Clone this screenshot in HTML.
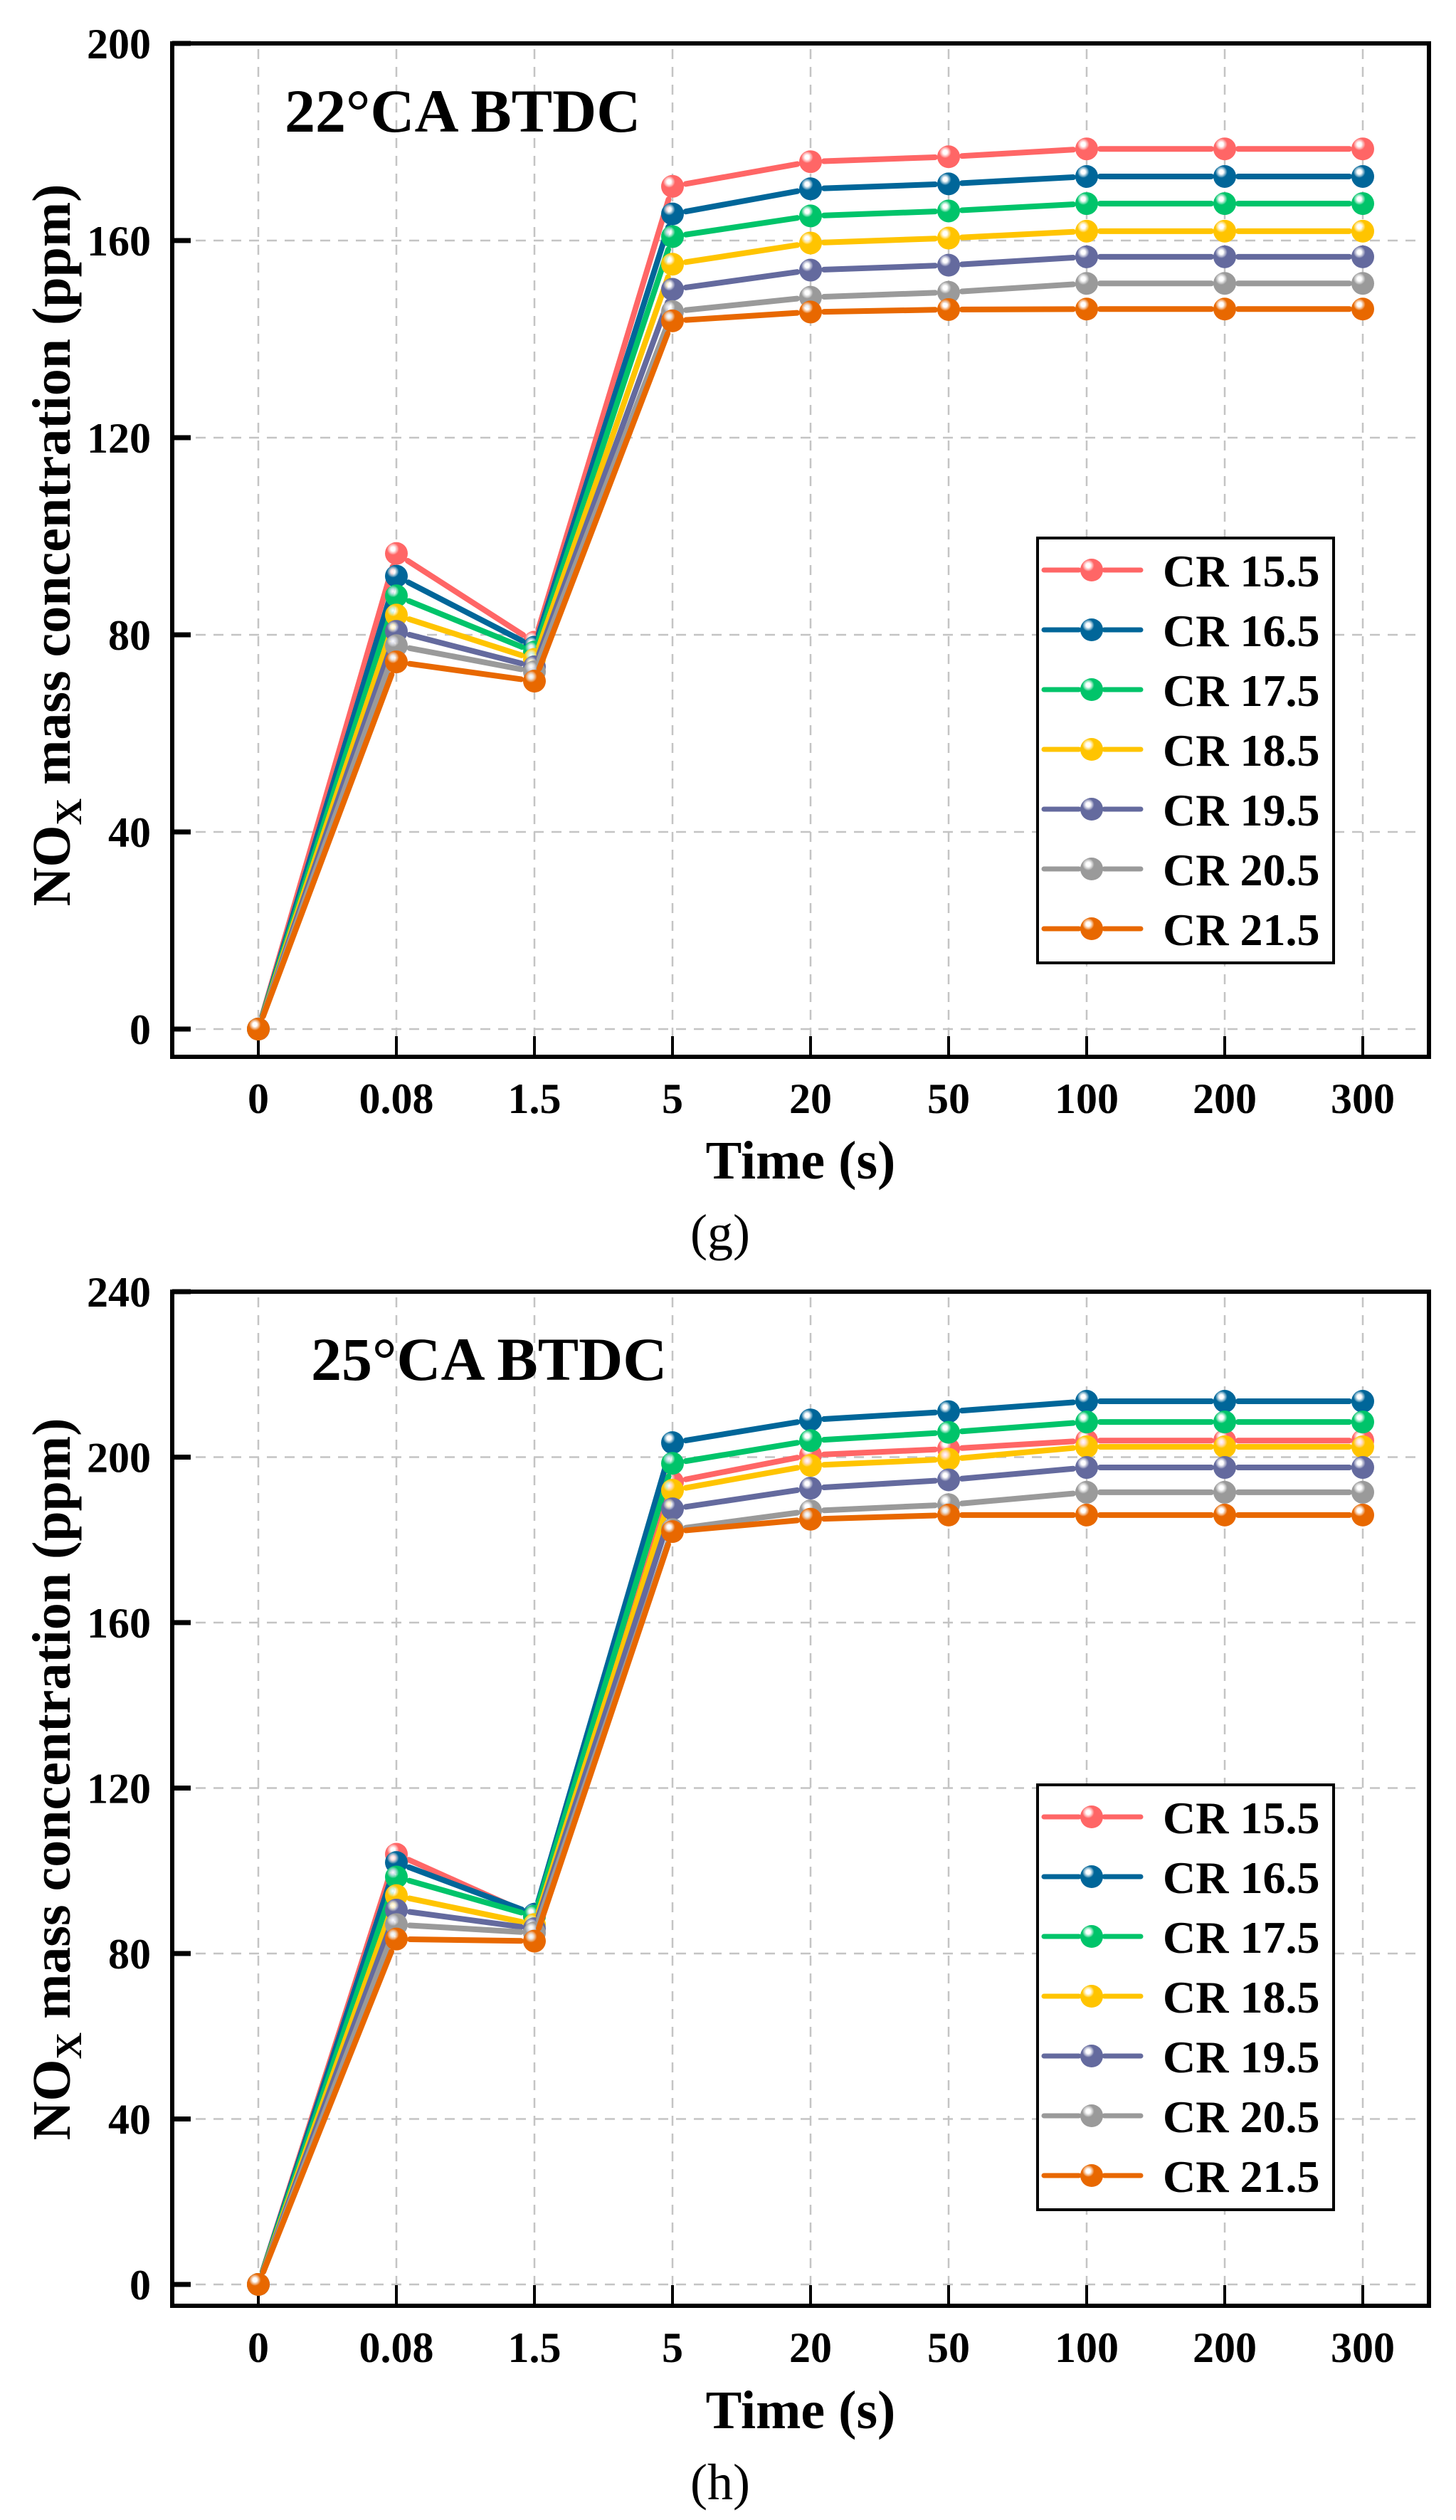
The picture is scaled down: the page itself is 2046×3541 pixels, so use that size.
<!DOCTYPE html>
<html><head><meta charset="utf-8"><style>
html,body{margin:0;padding:0;background:#fff;}
svg{display:block;font-family:"Liberation Serif",serif;}
</style></head><body>
<svg id="fig" width="2046" height="3541" viewBox="0 0 2046 3541" xmlns="http://www.w3.org/2000/svg">
<defs>
</defs>
</svg>
<script>
const categories = ["0","0.08","1.5","5","20","50","100","200","300"];
const seriesNames = ["CR 15.5","CR 16.5","CR 17.5","CR 18.5","CR 19.5","CR 20.5","CR 21.5"];
const colors = ["#ff6666","#006699","#00c46a","#ffc400","#646a9e","#9a9a9a","#e86800"];
const yTicksG = [0,40,80,120,160,200];
const yTicksH = [0,40,80,120,160,200,240];
// chart (g) 22°CA BTDC
const g155 = [0,96.5,78.5,171,176,177,178.6,178.6,178.6];
const g165 = [0,91.9,77.5,165.4,170.5,171.5,173,173,173];
const g175 = [0,87.9,76.5,160.8,165,166,167.5,167.5,167.5];
const g185 = [0,84,75,155.2,159.5,160.5,161.9,161.9,161.9];
const g195 = [0,80.7,73.5,150.1,154,155,156.7,156.7,156.7];
const g205 = [0,77.8,72.5,145.6,148.5,149.5,151.3,151.3,151.3];
const g215 = [0,74.5,70.6,143.7,145.5,146,146.1,146.1,146.1];
// chart (h) 25°CA BTDC
const h155 = [0,104,89,194,200.5,202,204,204,204];
const h165 = [0,102,89.5,203.5,209,211,213.5,213.5,213.5];
const h175 = [0,98.5,89,198.5,204,206,208.5,208.5,208.5];
const h185 = [0,94,87,192,198,199.5,202.5,202.5,202.5];
const h195 = [0,90.5,86,187.5,192.5,194.5,197.5,197.5,197.5];
const h205 = [0,87,85,182.5,187,188.5,191.5,191.5,191.5];
const h215 = [0,83.5,83,182,185,186,186,186,186];

const NS="http://www.w3.org/2000/svg";
const svg=document.getElementById('fig');
const defs=svg.querySelector('defs');
colors.forEach((c,i)=>{
  const rg=document.createElementNS(NS,'radialGradient');
  rg.setAttribute('id','mg'+i);rg.setAttribute('cx','0.35');rg.setAttribute('cy','0.3');rg.setAttribute('r','0.75');
  rg.innerHTML='<stop offset="0" stop-color="#fff"/><stop offset="0.12" stop-color="#fff" stop-opacity="0.8"/><stop offset="0.35" stop-color="'+c+'"/><stop offset="1" stop-color="'+c+'"/>';
  defs.appendChild(rg);
});
function el(tag,attrs,parent){const e=document.createElementNS(NS,tag);for(const k in attrs)e.setAttribute(k,attrs[k]);(parent||svg).appendChild(e);return e;}

function drawChart(o){
  const grp=el('g',{});
  
  
  const L=242,R=2008,T=o.top,B=o.bottom,y0=o.y0,yMax=o.yMax;
  const x=i=>363+194*i;
  const y=v=>y0-(v/yMax)*(y0-T);
  categories.forEach((c,i)=>{const g=el('line',{x1:x(i),x2:x(i),y1:T+8,y2:B-3,stroke:'#c4c4c4','stroke-width':2.5,'stroke-dasharray':'14 11'},grp);
    });
  o.ticks.forEach(v=>{const g=el('line',{x1:L+8,x2:R-8,y1:y(v),y2:y(v),stroke:'#c4c4c4','stroke-width':2.5,'stroke-dasharray':'14 11'},grp);
    });
  categories.forEach((c,i)=>{
    const t=el('line',{x1:x(i),x2:x(i),y1:B,y2:B-29,stroke:'#000','stroke-width':4},grp);
    
    const lb=el('text',{x:x(i),y:o.xlabY,'text-anchor':'middle','font-size':60,'font-weight':'bold'},grp);
    lb.textContent=c;
    
  });
  o.ticks.forEach(v=>{
    const t=el('line',{x1:L,x2:L+26,y1:y(v),y2:y(v),stroke:'#000','stroke-width':7},grp);
    
    const lb=el('text',{x:212,y:y(v)+21,'text-anchor':'end','font-size':60,'font-weight':'bold'},grp);
    lb.textContent=v;
    
  });
  o.series.forEach((vals,s)=>{
    const sg=el('g',{},grp);
    
    
    for(let i=0;i<vals.length-1;i++){
      const ax=x(i),ay=y(vals[i]),bx=x(i+1),by=y(vals[i+1]);
      const dx=bx-ax,dy=by-ay,d=Math.hypot(dx,dy),g=19;
      if(d<2*g)continue;
      const ln=el('line',{x1:ax+dx*g/d,y1:ay+dy*g/d,x2:bx-dx*g/d,y2:by-dy*g/d,stroke:colors[s],'stroke-width':8,'stroke-linecap':'round'},sg);
      
    }
    vals.forEach((v,i)=>{
      const m=el('circle',{cx:x(i),cy:y(v),r:16,fill:'url(#mg'+s+')'},sg);
      
    });
  });
  const fr=el('rect',{x:L,y:T,width:R-L,height:B-T,fill:'none',stroke:'#000','stroke-width':6},grp);
  
  const tt=el('text',{x:o.titleX,y:T+124,'font-size':86,'font-weight':'bold'},grp);
  tt.textContent=o.title;
  
  const lt=o.legendTop;
  const lg=el('g',{},grp);
  
  const lr=el('rect',{x:1458,y:lt,width:416,height:597,fill:'#fff',stroke:'#000','stroke-width':4},lg);
  
  seriesNames.forEach((n,s)=>{
    const ey=lt+45+84*s;
    const e=el('g',{},lg);
    
    el('line',{x1:1467,x2:1516,y1:ey,y2:ey,stroke:colors[s],'stroke-width':7,'stroke-linecap':'round'},e);
    el('line',{x1:1552,x2:1603,y1:ey,y2:ey,stroke:colors[s],'stroke-width':7,'stroke-linecap':'round'},e);
    el('circle',{cx:1534,cy:ey,r:16,fill:'url(#mg'+s+')'},e);
    const t=el('text',{x:1634,y:ey+23,'font-size':64,'font-weight':'bold'},e);
    t.textContent=n;
  });
  const xt=el('text',{x:1125,y:o.xtitleY,'text-anchor':'middle','font-size':76,'font-weight':'bold'},grp);
  xt.textContent='Time (s)';
  
  const yt=el('text',{x:0,y:0,'text-anchor':'middle','font-size':76,'font-weight':'bold',transform:'translate(98,'+o.ytitleY+') rotate(-90)'},grp);
  yt.innerHTML='NO<tspan font-size="52" dy="16">X</tspan><tspan dy="-16"> mass concentration (ppm)</tspan>';
  
  const cap=el('text',{x:1012,y:o.capY,'text-anchor':'middle','font-size':72},grp);
  cap.textContent=o.cap;
  
}
drawChart({name:'chart-g',top:61,bottom:1485,y0:1446,yMax:200,ticks:yTicksG,xlabY:1564,xtitleY:1656,capY:1756,ytitleY:766,
  title:'22°CA BTDC',titleX:400,legendTop:756,cap:'(g)',series:[g155,g165,g175,g185,g195,g205,g215]});
drawChart({name:'chart-h',top:1815,bottom:3240,y0:3210,yMax:240,ticks:yTicksH,xlabY:3319,xtitleY:3412,capY:3512,ytitleY:2500,
  title:'25°CA BTDC',titleX:437,legendTop:2508,cap:'(h)',series:[h155,h165,h175,h185,h195,h205,h215]});
</script>
</body></html>
